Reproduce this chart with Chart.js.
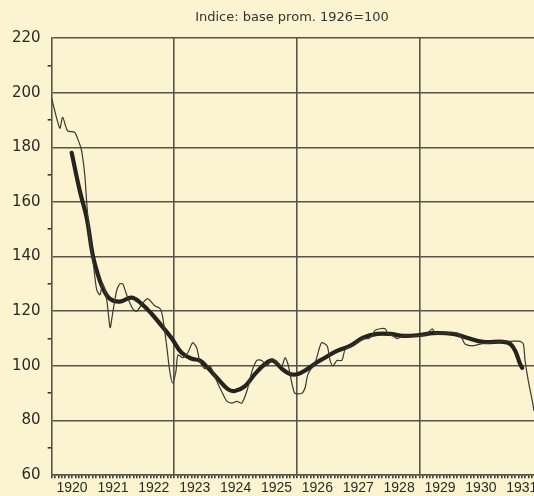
<!DOCTYPE html>
<html lang="es">
<head>
  <meta charset="UTF-8" />
  <title>Indice 1920-1931</title>
  <style>
    html, body {
      margin: 0;
      padding: 0;
      background-color: #fcf4d0;
      overflow: hidden;
    }
    #wrap {
      width: 584px;
      height: 496px;
    }
  </style>
</head>
<body>
  <div id="wrap"><canvas id="chart" width="584" height="496"></canvas></div>

  <script src="https://cdn.jsdelivr.net/npm/chart.js"></script>
  <script>
    // thin line: the raw index
    const thinYears = [
      1920.00, 1920.20, 1920.27, 1920.39, 1920.56, 1920.64, 1920.73, 1920.81, 1920.86, 1920.93,
      1921.00, 1921.10, 1921.18, 1921.25, 1921.35, 1921.43, 1921.49, 1921.59, 1921.67, 1921.74,
      1921.79, 1921.86, 1921.98, 1922.08, 1922.23, 1922.35, 1922.52, 1922.65, 1922.72, 1922.82,
      1922.89, 1922.96, 1923.04, 1923.09, 1923.21, 1923.33, 1923.45, 1923.55, 1923.62, 1923.75,
      1923.87, 1923.94, 1924.07, 1924.19, 1924.29, 1924.41, 1924.53, 1924.65, 1924.78, 1924.90,
      1925.02, 1925.14, 1925.27, 1925.39, 1925.51, 1925.63, 1925.71, 1925.78, 1925.88, 1925.95,
      1926.12, 1926.20, 1926.27, 1926.44, 1926.56, 1926.61, 1926.74, 1926.81, 1926.88, 1926.98,
      1927.10, 1927.18, 1927.35, 1927.47, 1927.62, 1927.74, 1927.84, 1927.91, 1928.03, 1928.16,
      1928.23, 1928.35, 1928.45, 1928.60, 1928.84, 1929.01, 1929.18, 1929.31, 1929.38, 1929.58,
      1929.92, 1930.04, 1930.11, 1930.29, 1930.48, 1930.73, 1930.97, 1931.22, 1931.46, 1931.54,
      1931.58, 1931.66, 1931.76, 1931.80
    ];
    const thinValues = [
      198, 187, 191, 186, 185.5, 183, 179, 170, 159.5, 147,
      140, 128, 126, 130, 124, 114, 119, 127.5, 130, 130,
      128, 125, 121, 120, 123, 124.6, 122, 121, 117.6, 106.6,
      98, 93.8, 98, 104, 103, 104.8, 108.5, 106.6, 102, 99,
      100, 98, 93.4, 89.7, 87, 86.4, 87, 86.4, 91, 98,
      102, 102, 100, 102.6, 101, 100, 103, 100.7, 93.4, 90,
      90, 92, 97, 101, 107, 108.5, 107.3, 102, 100, 102,
      102, 106, 107.3, 108.5, 110, 110, 111, 113, 113.6, 113.6,
      111.7, 111, 110, 111, 111, 111, 111.7, 113.6, 112, 112,
      112, 110, 108, 107.3, 108, 108.5, 109, 109, 109, 108,
      102, 94.5, 87, 83.5
    ];

    // thick line: the smoothed trend
    const trendYears = [
      1920.49, 1920.69, 1920.86, 1921.00, 1921.13, 1921.25, 1921.42, 1921.67, 1921.96, 1922.20,
      1922.45, 1922.69, 1922.94, 1923.18, 1923.43, 1923.62, 1923.82, 1924.07, 1924.31, 1924.48,
      1924.73, 1924.97, 1925.22, 1925.41, 1925.63, 1925.83, 1926.02, 1926.27, 1926.51, 1926.64,
      1926.98, 1927.30, 1927.62, 1927.96, 1928.28, 1928.60, 1929.01, 1929.33, 1929.82, 1930.16,
      1930.56, 1931.05, 1931.22, 1931.34, 1931.46, 1931.51
    ];
    const trendValues = [
      178, 164, 154, 141, 133.5, 128.6, 124.6, 123.5, 125, 122.7,
      119, 114.7, 110, 104.8, 102.6, 102, 99.3, 95.2, 91.5, 90.8,
      92.6, 97, 100.7, 102, 99, 97, 97, 99, 101.5, 102.6,
      105.5, 107.3, 110.3, 111.7, 111.7, 111, 111.3, 112, 111.7, 110.3,
      108.8, 108.8, 108, 105.5, 100.7, 99.3
    ];

    const yearLabels = [1920, 1921, 1922, 1923, 1924, 1925, 1926, 1927, 1928, 1929, 1930, 1931];
    const gridYears = [1923, 1926, 1929];
    const xMin = 1920, xMax = 1932.9; // the sheet runs on past the cropped right edge
    const yMin = 60, yMax = 220, yLabelStep = 20;

    const ink = '#3b3a33';
    const gridInk = '#57544a';

    // one tick per month, year name under the middle of each year
    const monthTicks = [];
    yearLabels.forEach(y => {
      for (let m = 0; m < 12; m++) monthTicks.push(y + m / 12);
    });
    monthTicks.push(yearLabels[yearLabels.length - 1] + 1);

    const isGridYear = v => gridYears.some(g => Math.abs(g - v) < 1e-6);
    const isMidYear = v => Math.abs((v - Math.floor(v + 1e-9)) - 0.5) < 1e-6;

    const toPoints = (xs, ys) => xs.map((x, i) => ({ x, y: ys[i] }));

    new Chart(document.getElementById('chart'), {
      type: 'line',
      data: {
        datasets: [
          {
            label: 'Indice',
            data: toPoints(thinYears, thinValues),
            borderColor: '#3a3934',
            borderWidth: 1.2,
            pointRadius: 0,
            tension: 0.25
          },
          {
            label: 'Tendencia',
            data: toPoints(trendYears, trendValues),
            borderColor: '#24231d',
            borderWidth: 4.2,
            pointRadius: 0,
            tension: 0.4,
            borderCapStyle: 'round'
          }
        ]
      },
      options: {
        responsive: false,
        animation: false,
        layout: { padding: { left: 5, right: 5, top: 0, bottom: -3 } },
        plugins: {
          legend: { display: false },
          tooltip: { enabled: false },
          title: {
            display: true,
            text: 'Indice: base prom. 1926=100',
            color: '#333',
            font: { family: 'DejaVu Sans', size: 13, weight: 'normal' },
            padding: { top: 10, bottom: 12.4 }
          }
        },
        scales: {
          x: {
            type: 'linear',
            min: xMin,
            max: xMax,
            afterBuildTicks: axis => {
              axis.ticks = monthTicks.map(v => ({ value: v }));
            },
            ticks: {
              autoSkip: false,
              maxRotation: 0,
              padding: 2,
              color: '#2b2a25',
              font: { family: 'Liberation Sans', size: 14 },
              callback: v => isMidYear(v) ? String(Math.floor(v)) : ''
            },
            grid: {
              color: ctx => (ctx.tick && isGridYear(ctx.tick.value)) ? gridInk : 'rgba(0,0,0,0)',
              lineWidth: 1.6,
              tickColor: ink,
              tickLength: 3
            },
            border: { color: gridInk, width: 1.6 }
          },
          y: {
            min: yMin,
            max: yMax,
            ticks: {
              stepSize: 10,
              padding: 7,
              color: '#2b2a25',
              font: { family: 'DejaVu Sans', size: 15 },
              callback: v => v % yLabelStep === 0 ? v : ''
            },
            grid: {
              color: ctx => (ctx.tick && ctx.tick.value % yLabelStep === 0) ? gridInk : 'rgba(0,0,0,0)',
              lineWidth: 1.6,
              tickColor: ctx => (ctx.tick && ctx.tick.value % yLabelStep === 0) ? 'rgba(0,0,0,0)' : ink,
              tickLength: 4
            },
            border: { color: gridInk, width: 1.6 }
          }
        }
      }
    });
  </script>
</body>
</html>
